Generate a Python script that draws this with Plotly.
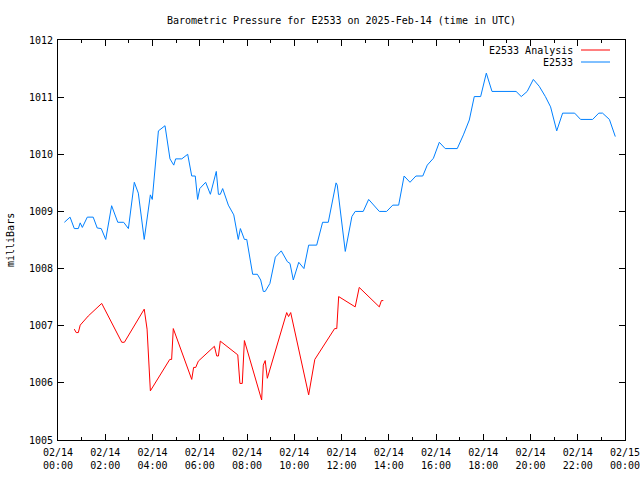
import pandas as pd
import plotly.graph_objects as go

# Hours after 2025-02-14 00:00 UTC, pressure in mbar
obs_hours = [0.27, 0.51, 0.69, 0.86, 0.94, 1.03, 1.24, 1.49, 1.66, 1.83, 2.02, 2.27, 2.53, 2.78,
             2.98, 3.23, 3.40, 3.65, 3.91, 3.99, 4.25, 4.53, 4.74, 4.90, 4.98, 5.24, 5.49, 5.66,
             5.81, 5.91, 6.00, 6.25, 6.45, 6.70, 6.79, 6.87, 6.97, 7.21, 7.44, 7.63, 7.72, 7.89,
             7.99, 8.24, 8.44, 8.58, 8.69, 8.77, 8.97, 9.20, 9.45, 9.71, 9.82, 9.96, 10.19, 10.41,
             10.61, 10.95, 11.20, 11.44, 11.77, 11.82, 12.16, 12.44, 12.58, 12.92, 13.15, 13.60,
             13.91, 14.17, 14.42, 14.65, 14.90, 15.15, 15.44, 15.63, 15.89, 16.14, 16.39, 16.90,
             17.16, 17.41, 17.62, 17.89, 18.13, 18.37, 19.39, 19.61, 19.86, 20.12, 20.37, 20.63,
             20.85, 21.11, 21.36, 21.87, 22.12, 22.63, 22.89, 23.05, 23.34, 23.59]
obs_values = [1008.81, 1008.90, 1008.70, 1008.70, 1008.80, 1008.72, 1008.90, 1008.90, 1008.71,
              1008.70, 1008.51, 1009.10, 1008.81, 1008.81, 1008.70, 1009.51, 1009.32, 1008.51,
              1009.29, 1009.21, 1010.41, 1010.50, 1009.92, 1009.81, 1009.92, 1009.92, 1010.00,
              1009.62, 1009.62, 1009.21, 1009.40, 1009.51, 1009.30, 1009.70, 1009.30, 1009.30,
              1009.40, 1009.11, 1008.94, 1008.51, 1008.70, 1008.51, 1008.51, 1007.90, 1007.90,
              1007.80, 1007.60, 1007.60, 1007.74, 1008.20, 1008.31, 1008.12, 1008.09, 1007.80,
              1008.11, 1008.00, 1008.41, 1008.41, 1008.81, 1008.81, 1009.50, 1009.46, 1008.30,
              1008.91, 1009.00, 1009.00, 1009.21, 1009.00, 1009.00, 1009.11, 1009.11, 1009.62,
              1009.51, 1009.62, 1009.62, 1009.81, 1009.93, 1010.21, 1010.10, 1010.10, 1010.34,
              1010.60, 1011.01, 1011.01, 1011.42, 1011.10, 1011.10, 1011.01, 1011.10, 1011.31,
              1011.19, 1011.01, 1010.83, 1010.41, 1010.72, 1010.72, 1010.61, 1010.61, 1010.72,
              1010.72, 1010.61, 1010.31]

ana_hours = [0.69, 0.77, 0.86, 0.94, 1.28, 1.85, 2.70, 2.81, 3.65, 3.77, 3.91, 4.73, 4.81, 4.88,
             5.66, 5.74, 5.83, 5.94, 6.62, 6.72, 6.79, 6.87, 7.61, 7.70, 7.80, 7.89, 8.62, 8.69,
             8.77, 8.86, 9.68, 9.76, 9.85, 10.61, 10.87, 11.71, 11.80, 11.88, 12.58, 12.75,
             13.60, 13.69, 13.77]
ana_values = [1006.94, 1006.88, 1006.88, 1007.01, 1007.17, 1007.39, 1006.71, 1006.71, 1007.29,
              1006.94, 1005.86, 1006.41, 1006.41, 1006.95, 1006.06, 1006.27, 1006.27, 1006.38,
              1006.64, 1006.47, 1006.47, 1006.73, 1006.49, 1005.99, 1005.99, 1006.74, 1005.70,
              1006.31, 1006.39, 1006.08, 1007.23, 1007.16, 1007.23, 1005.79, 1006.41, 1006.95,
              1006.95, 1007.51, 1007.33, 1007.67, 1007.33, 1007.44, 1007.44]

title_text = "Barometric Pressure for E2533 on 2025-Feb-14 (time in UTC)"
y_label = "milliBars"
series_names = ["E2533 Analysis", "E2533"]
series_colors = ["#ff0000", "#0080ff"]

base = pd.Timestamp("2025-02-14 00:00")
def to_time(hours):
    return [base + pd.to_timedelta(h, unit="h") for h in hours]

FONT = "DejaVu Sans Mono"
FS = 10

fig = go.Figure()
fig.add_trace(go.Scatter(x=to_time(ana_hours), y=ana_values, mode="lines",
                         line=dict(color=series_colors[0], width=1), name=series_names[0]))
fig.add_trace(go.Scatter(x=to_time(obs_hours), y=obs_values, mode="lines",
                         line=dict(color=series_colors[1], width=1), name=series_names[1]))

L, R, T, B = 58, 15, 40, 40
W, H = 640, 480
pw = W - L - R
ph = H - T - B

fig.update_layout(
    width=W, height=H,
    margin=dict(l=L, r=R, t=T, b=B, autoexpand=False),
    paper_bgcolor="white", plot_bgcolor="white",
    showlegend=False,
    font=dict(family=FONT, size=FS, color="black"),
    title=dict(text=title_text, x=0.5, xref="paper", y=1 - 20 / H,
               yref="container", yanchor="middle", xanchor="center",
               font=dict(family=FONT, size=FS, color="black")),
    xaxis=dict(
        type="date",
        range=[base, base + pd.Timedelta(hours=24, seconds=1)],
        tickmode="linear", tick0=base, dtick=2 * 3600 * 1000,
        tickformat="%m/%d<br>%H:%M",
        ticks="inside", ticklen=6, tickcolor="black", tickwidth=1,
        minor=dict(dtick=3600 * 1000, ticks="inside", ticklen=3, tickcolor="black"),
        showline=True, linecolor="black", linewidth=1, mirror="ticks",
        showgrid=False, zeroline=False, automargin=False,
        ticklabeloverflow="allow", ticklabelstandoff=3,
        tickfont=dict(family=FONT, size=FS, color="black"),
    ),
    yaxis=dict(
        range=[1005, 1012], tickmode="linear", tick0=1005, dtick=1,
        ticks="inside", ticklen=6, tickcolor="black", tickwidth=1,
        showline=True, linecolor="black", linewidth=1, mirror="ticks",
        showgrid=False, zeroline=False, automargin=False,
        ticklabelstandoff=2,
        tickfont=dict(family=FONT, size=FS, color="black"),
    ),
)

# y-axis label
fig.add_annotation(text=y_label, textangle=-90, xref="paper", yref="paper",
                   x=(10 - L) / pw, y=0.5, showarrow=False, xanchor="center", yanchor="middle",
                   font=dict(family=FONT, size=FS, color="black"))

# gnuplot-style legend: text right, line sample at right
leg_rows = [50, 62]
for name, color, ypix in zip(series_names, series_colors, leg_rows):
    yp = 1 - (ypix - T) / ph
    fig.add_annotation(text=name, xref="paper", yref="paper", x=(575 - L) / pw, y=yp,
                       showarrow=False, xanchor="right", yanchor="middle",
                       font=dict(family=FONT, size=FS, color="black"))
    fig.add_shape(type="line", xref="paper", yref="paper",
                  x0=(581 - L) / pw, x1=(610 - L) / pw, y0=yp, y1=yp,
                  line=dict(color=color, width=1))

fig.write_html("out.html")
